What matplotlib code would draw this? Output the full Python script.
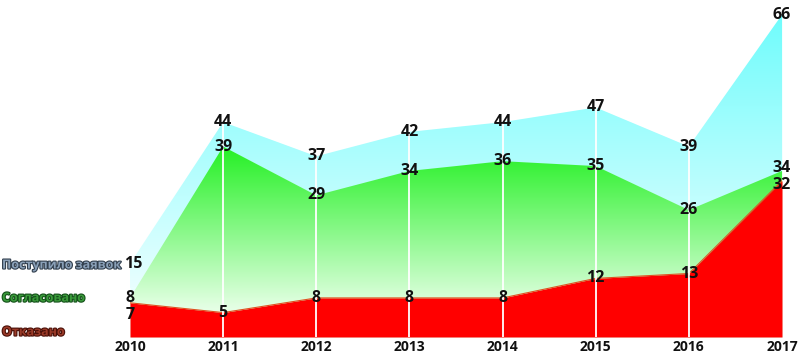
import numpy as np
import matplotlib.pyplot as plt
import matplotlib.patheffects as pe
from matplotlib.colors import LinearSegmentedColormap

# chart data
years = [2010, 2011, 2012, 2013, 2014, 2015, 2016, 2017]
received = [15, 44, 37, 42, 44, 47, 39, 66]
approved = [8, 39, 29, 34, 36, 35, 26, 34]
refused = [7, 5, 8, 8, 8, 12, 13, 32]
series_names = ["Поступило заявок", "Согласовано", "Отказано"]

plt.rcParams['font.family'] = ['Open Sans', 'DejaVu Sans']

fig = plt.figure(figsize=(8, 3.54), dpi=100)
ax = fig.add_axes([130 / 800, 17 / 354, 652 / 800, 337 / 354])
ax.set_xlim(years[0], years[-1])
ax.set_ylim(0, 69)
ax.axis('off')


def gradient_area(x, y, c_top, c_bot, y_top, y_bot, z):
    poly = ax.fill_between(x, 0, y, color='none', lw=0, zorder=z)
    cmap = LinearSegmentedColormap.from_list('g', [c_bot, c_top])
    grad = np.linspace(0, 1, 256).reshape(-1, 1)
    img = ax.imshow(grad, cmap=cmap, aspect='auto', origin='lower',
                    extent=[x[0], x[-1], y_bot, y_top], zorder=z,
                    interpolation='bilinear')
    img.set_clip_path(poly.get_paths()[0], transform=ax.transData)
    # pale fill under the gradient strip
    ax.fill_between(x, 0, y, color=c_bot, lw=0, zorder=z - 0.1)
    return img


gradient_area(years, received, '#6ffcfc', '#e8ffff', 66, 10, 1)
gradient_area(years, approved, '#1ef01e', '#e4ffe4', 40, 6, 2)
ax.fill_between(years, 0, refused, color='#ff0000', lw=0, zorder=3)
ax.plot(years, refused, color='#e05020', lw=0.8, zorder=3.5)

ax.set_ylim(0, 69)
for yr in years[1:-1]:
    ax.axvline(yr, color='white', lw=1.3, zorder=4)

# value labels
offsets = {(0, 2): -9, (7, 2): -3, (7, 1): 2}
for j, vals in enumerate([received, approved, refused]):
    for i, (yr, v) in enumerate(zip(years, vals)):
        dy = offsets.get((i, j), 0)
        dx = 2 if (i, j) == (0, 0) else 0
        ax.annotate(str(v), (yr, v), xytext=(dx, dy), textcoords='offset points',
                    ha='center', va='center', fontsize=11.5, fontweight='bold',
                    color='#111111', zorder=5, annotation_clip=False)

for yr in years:
    ax.annotate(str(yr), (yr, 0), xytext=(0, -14), textcoords='offset pixels',
                ha='center', va='baseline', fontsize=10, fontweight='bold',
                color='#111111', annotation_clip=False)

# series names on the left
name_style = [('#8aa0b8', '#33404e', 265), ('#3a9a3a', '#14501a', 298),
              ('#9a3a28', '#4a1008', 332)]
for name, (fc, ec, ypx) in zip(series_names, name_style):
    fig.text(2 / 800, 1 - ypx / 354, name, ha='left', va='center', fontsize=9,
             fontweight='bold', color=fc,
             path_effects=[pe.withStroke(linewidth=1.6, foreground=ec)])

fig.savefig('out.png', dpi=100)
